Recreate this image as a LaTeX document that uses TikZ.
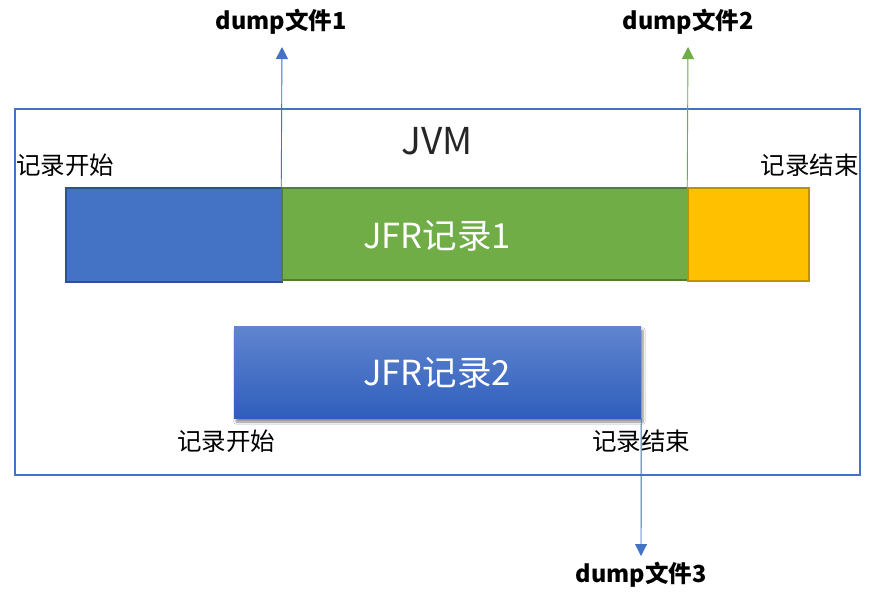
\documentclass[tikz,border=0pt]{standalone}
\usepackage{fontspec}
\setmainfont{Noto Sans CJK SC}
\usetikzlibrary{arrows.meta,shadows.blur}
\definecolor{cblue}{HTML}{4472C4}
\definecolor{cblueline}{HTML}{2F528F}
\definecolor{cgreen}{HTML}{70AD47}
\definecolor{cgreenline}{HTML}{507E32}
\definecolor{cyellow}{HTML}{FFC000}
\definecolor{cyellowline}{HTML}{BF9000}
\definecolor{gtop}{HTML}{6185CF}
\definecolor{gbot}{HTML}{2E5EBC}
\tikzset{
  box/.style={rectangle, inner sep=0pt, line width=1.5pt},
  lbl/.style={inner sep=0pt, font=\fontsize{24.5}{26}\selectfont, text=black},
  dumplbl/.style={inner sep=0pt, font=\fontsize{23.5}{26}\selectfont\bfseries, text=black},
  bigtxt/.style={inner sep=0pt, font=\fontsize{34.5}{38}\selectfont, text=white},
  arr/.style={line width=0.9pt, -{Triangle[width=12pt,length=12pt]}}
}
\begin{document}
\begin{tikzpicture}[x=1pt,y=-1pt]
\useasboundingbox[fill=white] (0,0) rectangle (875,606);
% JVM frame
\node[box, draw=cblue, minimum width=845pt, minimum height=366pt] (jvm) at (437.5,292) {};
\node[inner sep=0pt, font=\fontsize{37}{40}\selectfont, text=black!85] (jvmtxt) at (437,141) {JVM};
% record 1 bars
\node[box, draw=cblueline, fill=cblue, minimum width=216pt, minimum height=94pt] (b1) at (174,235) {};
\node[box, draw=cgreenline, fill=cgreen, minimum width=406pt, minimum height=92pt] (g1) at (485,234) {};
\node[box, draw=cyellowline, fill=cyellow, minimum width=121pt, minimum height=93pt] (y1) at (748.5,234.5) {};
\node[bigtxt] (t1) at (437,236) {JFR记录1};
% record 2 bar
\node[rectangle, inner sep=0pt, top color=gtop, bottom color=gbot, minimum width=407pt, minimum height=92pt,
      blur shadow={shadow xshift=2pt, shadow yshift=-4pt, shadow blur steps=6, shadow opacity=45}] (r2) at (437.5,372) {};
\node[bigtxt] (t2) at (437,373) {JFR记录2};
% labels
\node[lbl, anchor=west] (s1) at (16,165) {记录开始};
\node[lbl, anchor=east] (e1) at (859,165) {记录结束};
\node[lbl] (s2) at (226,441) {记录开始};
\node[lbl] (e2) at (641,441) {记录结束};
% dump labels
\node[dumplbl] (d1) at (281,22) {dump文件1};
\node[dumplbl] (d2) at (688,22) {dump文件2};
\node[dumplbl] (d3) at (641,575) {dump文件3};
\coordinate (a1) at (282,47);
\coordinate (a2) at (688,47);
\coordinate (a3) at (641,556);
% arrows
\draw[arr, draw=cblue, fill=cblue] (g1.north west) -- (a1);
\draw[arr, draw=cgreen, fill=cgreen] (y1.north west) -- (a2);
\draw[arr, draw=cblue, fill=cblue] (r2.south east) -- (a3);
\end{tikzpicture}
\end{document}
